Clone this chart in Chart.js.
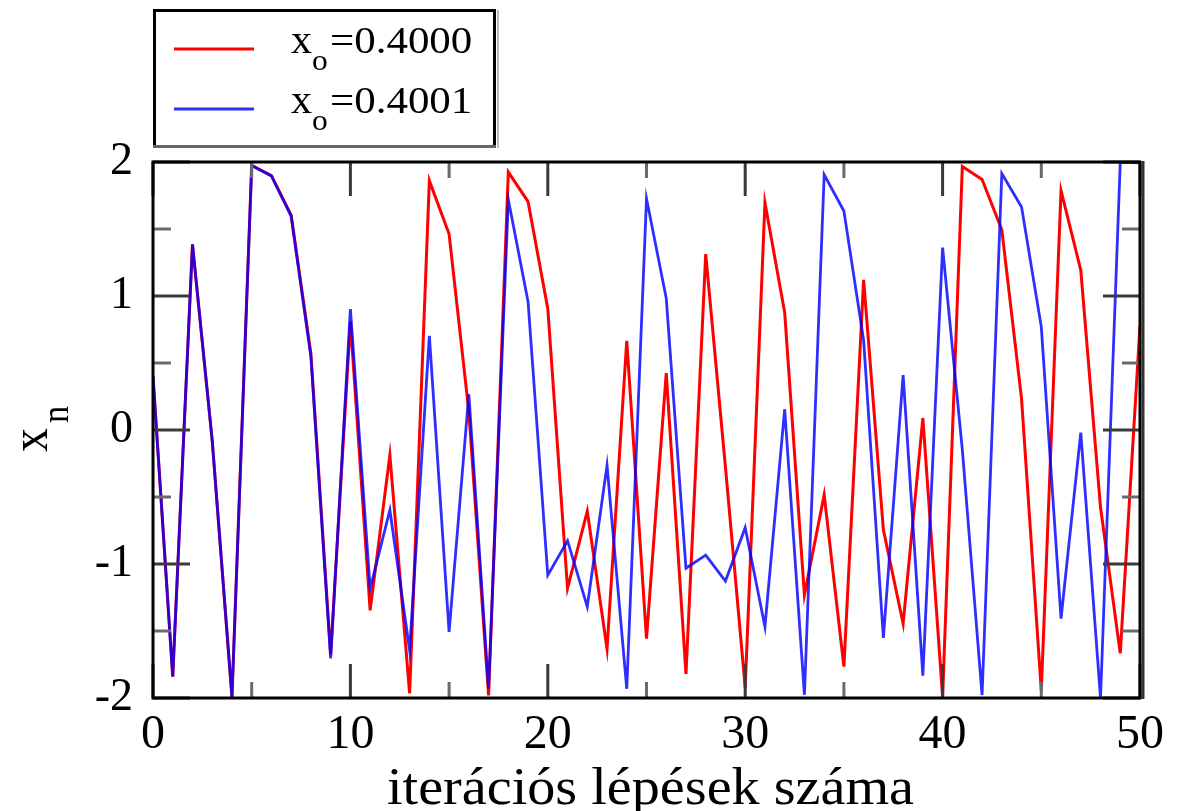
<!DOCTYPE html>
<html>
<head>
<meta charset="utf-8">
<script src="https://cdn.jsdelivr.net/npm/chart.js@4.4.0/dist/chart.umd.min.js"></script>
<style>
  body { margin: 0; background: #fff; }
  #wrap { width: 1183px; height: 811px; }
</style>
</head>
<body>
<div id="wrap"><canvas id="myChart"></canvas></div>
<script>
// iteration steps n
let steps = [0,1,2,3,4,5,6,7,8,9,10,11,12,13,14,15,16,17,18,19,20,21,22,23,24,25,
             26,27,28,29,30,31,32,33,34,35,36,37,38,39,40,41,42,43,44,45,46,47,48,49,50];

// x0 = 0.4000 (red)
let redValues = [0.400,-1.840,1.386,-0.080,-1.994,1.974,1.898,1.603,0.569,-1.676,
                 0.809,-1.346,-0.187,-1.965,1.861,1.462,0.138,-1.981,1.925,1.704,
                 0.905,-1.181,-0.606,-1.633,0.666,-1.557,0.424,-1.820,1.312,-0.278,
                 -1.923,1.696,0.877,-1.231,-0.484,-1.766,1.120,-0.745,-1.445,0.089,
                 -1.992,1.967,1.869,1.494,0.232,-1.946,1.787,1.193,-0.577,-1.667,0.780];

// x0 = 0.4001 (blue)
let blueValues = [0.400,-1.840,1.386,-0.080,-1.994,1.974,1.896,1.595,0.544,-1.704,
                  0.903,-1.184,-0.597,-1.644,0.703,-1.506,0.267,-1.929,1.720,0.958,
                  -1.083,-0.826,-1.318,-0.263,-1.931,1.727,0.984,-1.032,-0.934,-1.127,
                  -0.729,-1.468,0.155,-1.976,1.906,1.634,0.669,-1.552,0.409,-1.833,
                  1.361,-0.148,-1.978,1.914,1.664,0.770,-1.407,-0.020,-2.000,1.998,1.993];

let legendValues = ['0.4000', '0.4001'];
let xMajorTicks = [0, 10, 20, 30, 40, 50];
let xMinorTicks = [5, 15, 25, 35, 45];
let yMajorTicks = [-2, -1, 0, 1, 2];
let yMinorTicks = [-1.5, -0.5, 0.5, 1.5];

const SERIF = "'Liberation Serif', 'Times New Roman', serif";

function stretchText(ctx, str, x, y, size, sx, align) {
  ctx.save();
  ctx.font = size + 'px ' + SERIF;
  ctx.textAlign = align || 'left';
  ctx.textBaseline = 'alphabetic';
  ctx.fillStyle = '#000';
  ctx.translate(x, y);
  ctx.scale(sx, 1);
  ctx.fillText(str, 0, 0);
  ctx.restore();
}

// inside tick marks + box frame
const framePlugin = {
  id: 'frame',
  afterDatasetsDraw(chart) {
    const ctx = chart.ctx, a = chart.chartArea;
    const xs = chart.scales.x, ys = chart.scales.y;
    ctx.save();
    ctx.lineWidth = 3;
    const vTick = (v, len, col) => {
      const px = xs.getPixelForValue(v);
      ctx.strokeStyle = col;
      ctx.beginPath();
      ctx.moveTo(px, a.top); ctx.lineTo(px, a.top + len);
      ctx.moveTo(px, a.bottom); ctx.lineTo(px, a.bottom - len);
      ctx.stroke();
    };
    const hTick = (v, len, col) => {
      const py = ys.getPixelForValue(v);
      ctx.strokeStyle = col;
      ctx.beginPath();
      ctx.moveTo(a.left, py); ctx.lineTo(a.left + len, py);
      ctx.moveTo(a.right, py); ctx.lineTo(a.right - len, py);
      ctx.stroke();
    };
    xMajorTicks.forEach(v => vTick(v, 34, '#3a3a3a'));
    xMinorTicks.forEach(v => vTick(v, 16, '#6a6a6a'));
    yMajorTicks.forEach(v => hTick(v, 37, '#3a3a3a'));
    yMinorTicks.forEach(v => hTick(v, 18, '#6a6a6a'));

    // frame
    ctx.strokeStyle = '#000';
    ctx.lineWidth = 3;
    ctx.strokeRect(a.left, a.top, a.right - a.left, a.bottom - a.top);
    ctx.strokeStyle = '#333';
    ctx.lineWidth = 3;
    ctx.beginPath();
    ctx.moveTo(a.right + 3, a.top - 1); ctx.lineTo(a.right + 3, a.bottom + 1);
    ctx.stroke();
    ctx.restore();
  },
  afterDraw(chart) {
    const ctx = chart.ctx, a = chart.chartArea;
    ctx.save();
    // legend box
    ctx.strokeStyle = '#000';
    ctx.lineWidth = 3;
    ctx.beginPath();
    ctx.moveTo(154.5, 146); ctx.lineTo(154.5, 10.5); ctx.lineTo(494.5, 10.5); ctx.lineTo(494.5, 146);
    ctx.stroke();
    ctx.strokeStyle = '#666';
    ctx.beginPath();
    ctx.moveTo(153, 146.5); ctx.lineTo(496, 146.5);
    ctx.stroke();
    ctx.strokeStyle = '#bbb';
    ctx.lineWidth = 2;
    ctx.beginPath();
    ctx.moveTo(498, 10); ctx.lineTo(498, 148);
    ctx.stroke();

    chart.data.datasets.forEach((ds, i) => {
      const y = 49 + i * 60;
      ctx.strokeStyle = ds.borderColor;
      ctx.lineWidth = 3;
      ctx.beginPath();
      ctx.moveTo(174, y); ctx.lineTo(254, y);
      ctx.stroke();
      stretchText(ctx, 'x', 291, y + 4, 40, 1.05);
      stretchText(ctx, 'o', 312, y + 21, 30, 1.05);
      stretchText(ctx, '=' + legendValues[i], 330, y + 4, 38, 1.13);
    });

    // x axis title
    stretchText(ctx, 'iterációs lépések száma', (a.left + a.right) / 2 + 4, 804, 52, 1.08, 'center');

    // y axis title x_n (rotated)
    ctx.translate(47, 452);
    ctx.rotate(-Math.PI / 2);
    stretchText(ctx, 'x', 0, 0, 52, 0.92);
    stretchText(ctx, 'n', 29, 21, 38, 0.9);
    ctx.restore();
  }
};

let myChart = document.getElementById('myChart').getContext('2d');

let chart = new Chart(myChart, {
  type: 'line',
  data: {
    datasets: [
      {
        label: 'xo=' + legendValues[0],
        data: steps.map((n, i) => ({ x: n, y: redValues[i] })),
        borderColor: 'rgb(255,0,0)',
        borderWidth: 3,
        pointRadius: 0,
        tension: 0,
        order: 2
      },
      {
        label: 'xo=' + legendValues[1],
        data: steps.map((n, i) => ({ x: n, y: blueValues[i] })),
        borderColor: 'rgba(0,0,255,0.82)',
        borderWidth: 2.8,
        pointRadius: 0,
        tension: 0,
        order: 1
      }
    ]
  },
  options: {
    responsive: true,
    maintainAspectRatio: false,
    animation: false,
    layout: { padding: { top: 162, right: 43, left: 0, bottom: 0 } },
    plugins: {
      legend: { display: false },
      tooltip: { enabled: false }
    },
    scales: {
      x: {
        type: 'linear',
        min: 0,
        max: 50,
        afterBuildTicks: (s) => { s.ticks = xMajorTicks.map(v => ({ value: v })); },
        afterFit: (s) => { s.height = 113; },
        grid: { display: false, drawTicks: false },
        border: { display: false },
        ticks: {
          padding: 9,
          color: '#000',
          maxRotation: 0,
          font: { family: SERIF, size: 48 }
        }
      },
      y: {
        min: -2,
        max: 2,
        afterBuildTicks: (s) => { s.ticks = yMajorTicks.map(v => ({ value: v })); },
        afterFit: (s) => { s.width = 153; },
        grid: { display: false, drawTicks: false },
        border: { display: false },
        ticks: {
          padding: 20,
          color: '#000',
          font: { family: SERIF, size: 46 }
        }
      }
    }
  },
  plugins: [framePlugin]
});
</script>
</body>
</html>
